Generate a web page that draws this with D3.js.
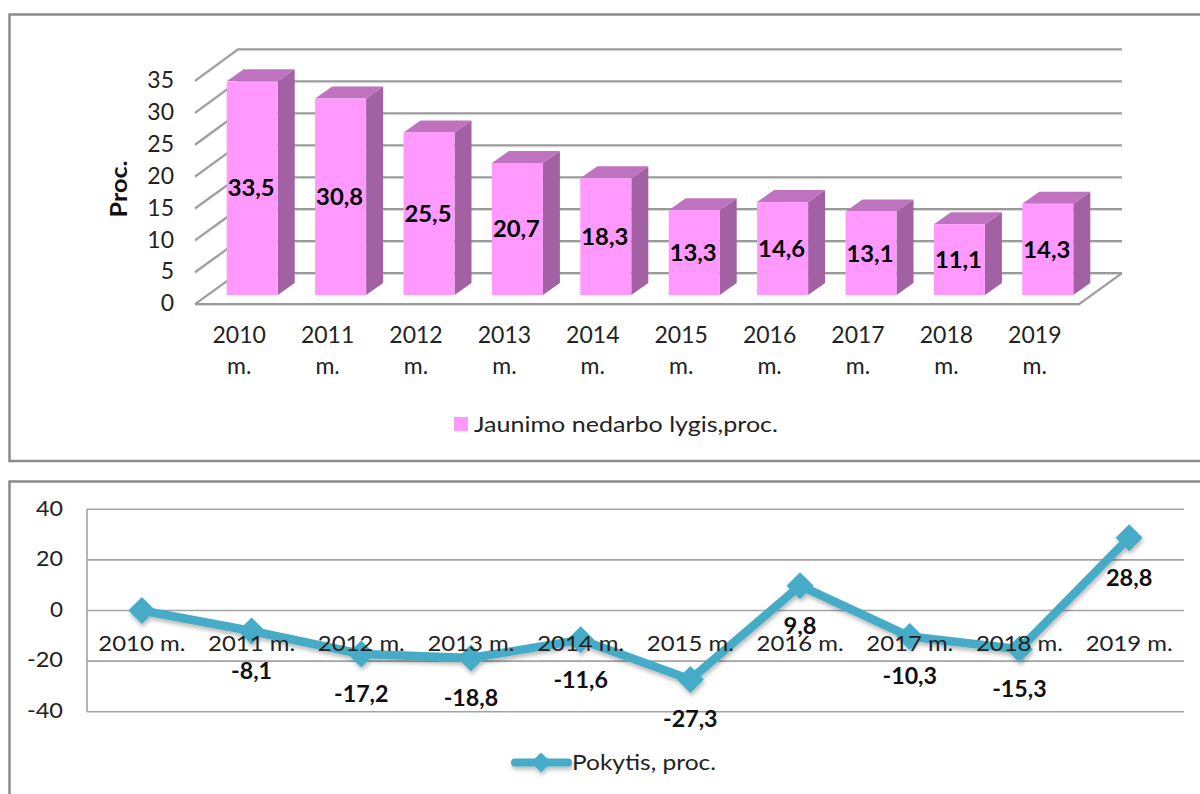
<!DOCTYPE html>
<html><head><meta charset="utf-8">
<script src="https://cdn.jsdelivr.net/npm/d3@7"></script>
<style>html,body{margin:0;padding:0;background:#fff;overflow:hidden}svg{display:block}text{font-family:Lato,"Open Sans",sans-serif}</style>
</head><body><svg id="c" width="1200" height="794"></svg>
<script>
const barYears = ["2010","2011","2012","2013","2014","2015","2016","2017","2018","2019"];
const barValues = [33.5,30.8,25.5,20.7,18.3,13.3,14.6,13.1,11.1,14.3];
const lineCategories = barYears.map(y => y + " m.");
const lineValues = [0,-8.1,-17.2,-18.8,-11.6,-27.3,9.8,-10.3,-15.3,28.8];
const barTicks = [0,5,10,15,20,25,30,35];
const lineTicks = [-40,-20,0,20,40];
const barLegend = "Jaunimo nedarbo lygis,proc.";
const lineLegend = "Pokytis, proc.";
const barAxisTitle = "Proc.";
const comma = v => String(v).replace(".", ",");

const svg = d3.select("#c");
const defs = svg.append("defs");
const f = defs.append("filter").attr("id","sh").attr("x","-40%").attr("y","-40%").attr("width","180%").attr("height","180%");
f.append("feDropShadow").attr("dx",1).attr("dy",3).attr("stdDeviation",2).attr("flood-color","#000").attr("flood-opacity",.28);
const gs = defs.append("filter").attr("id","gs").attr("x","-2%").attr("y","-200%").attr("width","104%").attr("height","500%");
gs.append("feDropShadow").attr("dx",0).attr("dy",1).attr("stdDeviation",.6).attr("flood-color","#000").attr("flood-opacity",.15);

// panel frames
const frame = "#8a8a8a";
svg.append("path").attr("d","M1202,14.5H9.5V461H1202").attr("fill","none").attr("stroke",frame).attr("stroke-width",2.5);
svg.append("path").attr("d","M1202,481.5H9.5V796").attr("fill","none").attr("stroke",frame).attr("stroke-width",2.5);

/* ---------- 3D column chart ---------- */
const floorLeft = 195, floorRight = 1079, wallDx = 43, wallDy = 31;
const xBar = d3.scaleBand().domain(barYears).range([floorLeft, floorRight]);
const yFront = d3.scaleLinear().domain([0,35]).range([304,80.8]);
const yWall = d3.scaleLinear().domain([0,35]).range([273,49.3]);
const barUnit = yFront(0) - yFront(1);
const yBar = v => 295 - barUnit * v;
const barW = 51, depthX = 17, depthY = 12, barShift = 13;

const wall = svg.append("g").attr("stroke","#9a9a9a").attr("stroke-width",2).attr("fill","none").attr("filter","url(#gs)");
barTicks.forEach(t => {
  wall.append("path").attr("d",`M${floorLeft},${yFront(t)}L${floorLeft+wallDx},${yWall(t)}H${floorRight+wallDx}`);
});
wall.append("path").attr("d",`M${floorLeft},${yFront(0)}H${floorRight}L${floorRight+wallDx},${yWall(0)}`);

const bars = svg.append("g").selectAll("g").data(barYears).join("g");
bars.each(function(d,i){
  const g = d3.select(this), v = barValues[i];
  const x0 = xBar(d) + xBar.bandwidth()/2 + barShift - barW/2, x1 = x0 + barW;
  const top = yBar(v), bot = yBar(0);
  g.append("path").attr("fill","#A161A3")
    .attr("d",`M${x1},${top}L${x1+depthX},${top-depthY}V${bot-depthY}L${x1},${bot}Z`);
  g.append("path").attr("fill","#BF73BF")
    .attr("d",`M${x0},${top}L${x0+depthX},${top-depthY}H${x1+depthX}L${x1},${top}Z`);
  g.append("rect").attr("x",x0).attr("y",top).attr("width",barW).attr("height",bot-top).attr("fill","#FF99FF");
  g.append("text").attr("x",x0+barW/2-1).attr("y",(top+bot)/2).attr("dy","0.36em")
    .attr("text-anchor","middle").attr("font-size",23).attr("font-weight",700).attr("fill","#000")
    .attr("textLength",47).attr("lengthAdjust","spacingAndGlyphs").text(comma(v));
});

const axL = svg.append("g").attr("transform","translate(174,-0.5)")
  .call(d3.axisLeft(yFront).tickValues(barTicks).tickSize(0).tickPadding(0));
axL.select(".domain").remove();
axL.selectAll("text").attr("font-size",23).attr("fill","#222").style("font-family","Lato");

svg.append("text").attr("transform","translate(127,189) rotate(-90)").attr("text-anchor","middle")
  .attr("font-size",22).attr("font-weight",700).attr("fill","#111")
  .attr("textLength",57).attr("lengthAdjust","spacingAndGlyphs").text(barAxisTitle);

barYears.forEach(d => {
  const cx = xBar(d)+xBar.bandwidth()/2;
  svg.append("text").attr("x",cx).attr("y",335).attr("dy","0.36em").attr("text-anchor","middle")
    .attr("font-size",23).attr("fill","#222").text(d);
  svg.append("text").attr("x",cx).attr("y",366).attr("dy","0.36em").attr("text-anchor","middle")
    .attr("font-size",23).attr("fill","#222").text("m.");
});

svg.append("rect").attr("x",454).attr("y",417).attr("width",14).attr("height",14).attr("fill","#FF99FF");
svg.append("text").attr("x",474).attr("y",424).attr("dy","0.36em").attr("font-size",22).attr("fill","#222")
  .attr("textLength",304).attr("lengthAdjust","spacingAndGlyphs").text(barLegend);

/* ---------- line chart ---------- */
const xLine = d3.scaleBand().domain(lineCategories).range([87,1184]);
const yLine = d3.scaleLinear().domain([-40,40]).range([711.7,509.3]);
const cx = d => xLine(d)+xLine.bandwidth()/2;

const lg = svg.append("g").attr("stroke","#a3a3a3").attr("stroke-width",1.6);
lineTicks.forEach(t => lg.append("line").attr("x1",87).attr("x2",1184).attr("y1",yLine(t)).attr("y2",yLine(t)));
lg.append("line").attr("x1",87).attr("x2",87).attr("y1",yLine(40)).attr("y2",yLine(-40));

const axL2 = svg.append("g").attr("transform","translate(63,-1)")
  .call(d3.axisLeft(yLine).tickValues(lineTicks).tickSize(0).tickPadding(0).tickFormat(d => String(d)));
axL2.select(".domain").remove();
axL2.selectAll("text").attr("font-size",21).attr("fill","#222").style("font-family","Lato")
  .attr("textLength",function(d){return d<0?36:(d===0?13:27)}).attr("lengthAdjust","spacingAndGlyphs");

const pts = lineCategories.map((c,i)=>[cx(c),yLine(lineValues[i])]);
const lineLayer = svg.append("g").attr("filter","url(#sh)");
lineLayer.append("path").attr("d",d3.line()(pts)).attr("fill","none").attr("stroke","#45ABC6")
  .attr("stroke-width",8.5).attr("stroke-linejoin","round");
const diamond = (x,y,r) => `M${x},${y-r}L${x+r},${y}L${x},${y+r}L${x-r},${y}Z`;
pts.forEach(p => lineLayer.append("path").attr("d",diamond(p[0],p[1],13.5)).attr("fill","#45ABC6"));

lineCategories.forEach(c => {
  svg.append("text").attr("x",cx(c)).attr("y",643).attr("dy","0.36em").attr("text-anchor","middle")
    .attr("font-size",22).attr("fill","#222").attr("textLength",87).attr("lengthAdjust","spacingAndGlyphs").text(c);
});
lineValues.forEach((v,i) => {
  if (v === 0) return;
  const c = lineCategories[i];
  const s = comma(v);
  const digits = s.replace(/[^0-9]/g,"").length;
  svg.append("text").attr("x",cx(c)).attr("y",yLine(v)+40).attr("dy","0.36em").attr("text-anchor","middle")
    .attr("font-size",22).attr("font-weight",700).attr("fill","#111")
    .attr("textLength",digits*13.5+6+(v<0?8:0)).attr("lengthAdjust","spacingAndGlyphs").text(s);
});

const ll = svg.append("g").attr("filter","url(#sh)");
ll.append("line").attr("x1",515).attr("x2",568).attr("y1",762.5).attr("y2",762.5).attr("stroke","#45ABC6")
  .attr("stroke-width",8).attr("stroke-linecap","round");
ll.append("path").attr("d",diamond(541,762.5,10)).attr("fill","#45ABC6");
svg.append("text").attr("x",572).attr("y",762).attr("dy","0.36em").attr("font-size",22).attr("fill","#222")
  .attr("textLength",144).attr("lengthAdjust","spacingAndGlyphs").text(lineLegend);
</script></body></html>
